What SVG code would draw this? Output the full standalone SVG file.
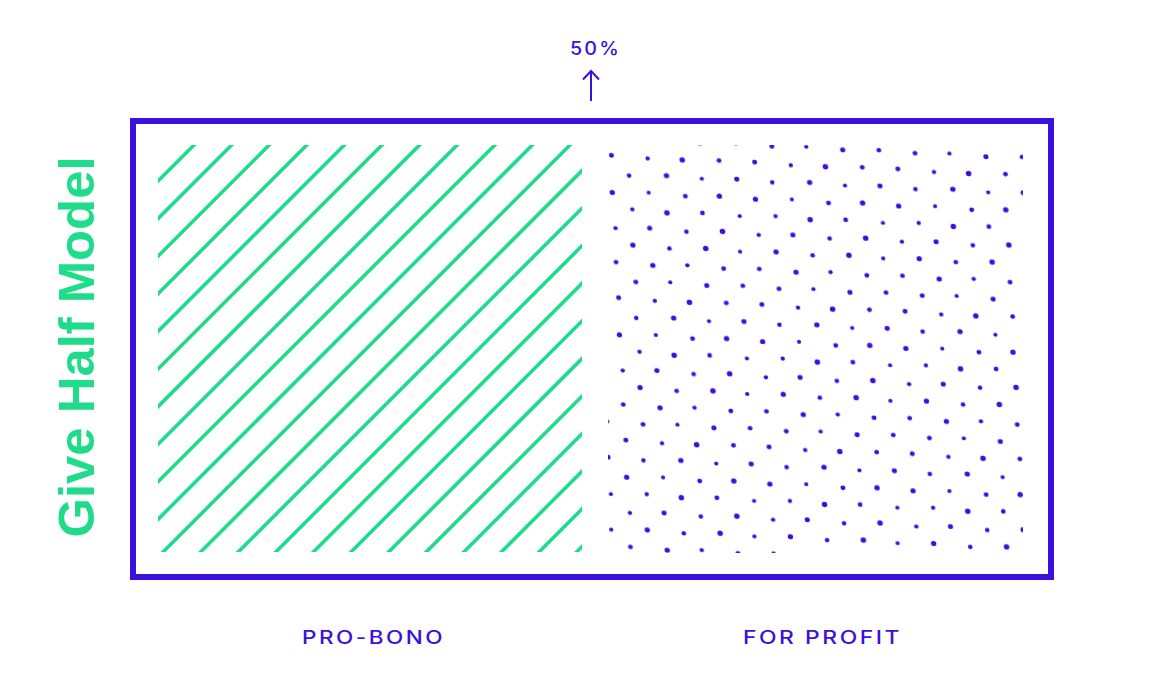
<svg xmlns="http://www.w3.org/2000/svg" width="1174" height="698" viewBox="0 0 1174 698">
<style>
.lbl{font-family:Inter,"Liberation Sans",sans-serif;font-size:18px;font-weight:500;fill:#3b10de;letter-spacing:2px}
.title{font-family:"Liberation Sans",Arial,sans-serif;font-weight:700;font-size:50px;fill:#1fdc8b}
.stripe{stroke:#1fdc8b;stroke-width:3.6;fill:none}
.frame{fill:none;stroke:#3b10de;stroke-width:6}
.conn{stroke:#3b10de;stroke-width:2;fill:none}
.dot{fill:#3b10de}
</style>
<defs>
<clipPath id="stripeClip"><rect x="158" y="145" width="424" height="407"/></clipPath>
<pattern id="dots" patternUnits="userSpaceOnUse" x="0" y="0" width="144" height="149.2" patternTransform="matrix(0.99444 0.04722 0.04826 0.95442 601.6 146.7)">
<g class="dot">
<circle cx="9.5" cy="8.6" r="2.5"/><circle cx="26.2" cy="28.9" r="2.3"/>
<circle cx="45.8" cy="10.1" r="2.2"/><circle cx="63.9" cy="27.1" r="2.7"/>
<circle cx="80.6" cy="9.9" r="2.8"/><circle cx="99.4" cy="28.6" r="2.1"/>
<circle cx="117.7" cy="8.7" r="2.4"/><circle cx="134.6" cy="27.4" r="2.6"/>
<circle cx="8.4" cy="47.5" r="2.7"/><circle cx="27.8" cy="64.4" r="2.2"/>
<circle cx="45.1" cy="45.9" r="2.1"/><circle cx="62.5" cy="66.3" r="2.8"/>
<circle cx="81.9" cy="47.8" r="2.5"/><circle cx="98.3" cy="64.6" r="2.4"/>
<circle cx="116.2" cy="46.1" r="2.7"/><circle cx="135.7" cy="66.0" r="2.1"/>
<circle cx="9.9" cy="84.8" r="2.2"/><circle cx="26.5" cy="101.8" r="2.7"/>
<circle cx="44.3" cy="83.2" r="2.6"/><circle cx="63.2" cy="103.6" r="2.3"/>
<circle cx="81.2" cy="85.0" r="2.3"/><circle cx="99.8" cy="101.7" r="2.8"/>
<circle cx="117.5" cy="83.0" r="2.8"/><circle cx="134.2" cy="103.3" r="2.2"/>
<circle cx="8.7" cy="120.5" r="2.4"/><circle cx="27.6" cy="140.4" r="2.5"/>
<circle cx="45.6" cy="122.1" r="2.7"/><circle cx="62.3" cy="139.1" r="2.1"/>
<circle cx="80.4" cy="120.3" r="2.2"/><circle cx="98.9" cy="140.7" r="2.6"/>
<circle cx="116.8" cy="121.9" r="2.5"/><circle cx="135.3" cy="139.0" r="2.4"/>
</g>
</pattern>
<marker id="arrowHead" markerUnits="userSpaceOnUse" viewBox="-12 -12 24 24" refX="0" refY="0" markerWidth="24" markerHeight="24" orient="auto" overflow="visible">
<path d="M-8.5 -8 L0 0 L-8.5 8" fill="none" stroke="#3b10de" stroke-width="2"/>
</marker>
</defs>
<rect width="1174" height="698" fill="#ffffff"/>

<g id="frame">
<rect class="frame" x="133" y="121" width="918" height="456"/>
</g>

<g id="pro-bono">
<path class="stripe" clip-path="url(#stripeClip)" d="M-221 560L199 140M-183.4 560L236.6 140M-145.8 560L274.2 140M-108.2 560L311.8 140M-70.6 560L349.4 140M-33 560L387 140M4.6 560L424.6 140M42.2 560L462.2 140M79.8 560L499.8 140M117.4 560L537.4 140M155 560L575 140M192.6 560L612.6 140M230.2 560L650.2 140M267.8 560L687.8 140M305.4 560L725.4 140M343 560L763 140M380.6 560L800.6 140M418.2 560L838.2 140M455.8 560L875.8 140M493.4 560L913.4 140M531 560L951 140M568.6 560L988.6 140"/>
<text class="lbl" x="302" y="644" textLength="143" lengthAdjust="spacingAndGlyphs">PRO-BONO</text>
</g>

<g id="for-profit">
<rect x="608" y="145" width="415" height="408" fill="url(#dots)"/>
<text class="lbl" x="743" y="644" textLength="159" lengthAdjust="spacingAndGlyphs">FOR PROFIT</text>
</g>

<g id="title">
<text class="title" transform="translate(94,347) rotate(-90)" x="0" y="0" text-anchor="middle" textLength="381" lengthAdjust="spacingAndGlyphs">Give Half Model</text>
</g>

<g id="split-marker">
<text class="lbl" x="570" y="55" textLength="51" lengthAdjust="spacingAndGlyphs">50%</text>
</g>

<g id="connectors">
<line class="conn" x1="591" y1="101" x2="591" y2="71" marker-end="url(#arrowHead)"/>
</g>
</svg>
